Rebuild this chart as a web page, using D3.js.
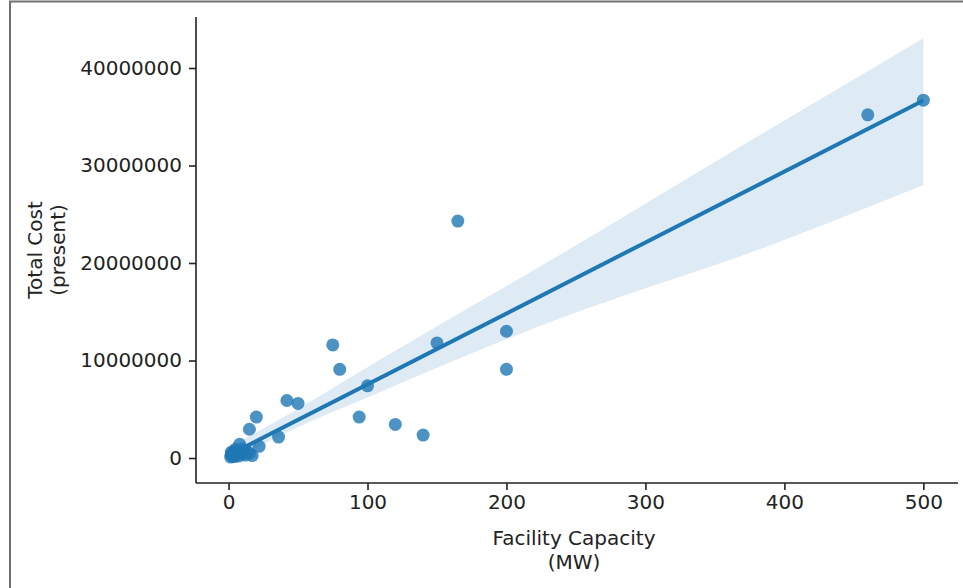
<!DOCTYPE html>
<html><head><meta charset="utf-8">
<script src="https://cdn.jsdelivr.net/npm/d3@7/dist/d3.min.js"></script>
<style>body{margin:0;background:#fff;overflow:hidden}svg{display:block}</style>
</head><body><svg id="c" width="963" height="588"></svg>
<script>
// Facility capacity (MW) and total cost (present, $)
const capacityMW = [500, 460, 165, 200, 200, 150, 75, 80, 100, 42, 50, 94, 120, 140, 20, 15, 36, 22,
  1.5, 2, 2, 3, 3, 4, 4, 5, 5, 6, 7, 8, 8, 10, 10, 12, 13, 15, 17];
const totalCost = [36700000, 35200000, 24300000, 13000000, 9100000, 11800000, 11600000, 9100000, 7400000,
  5900000, 5600000, 4200000, 3450000, 2350000, 4200000, 2950000, 2150000, 1200000,
  100000, 300000, 600000, 200000, 450000, 150000, 700000, 300000, 900000, 500000, 200000, 1400000,
  600000, 400000, 900000, 300000, 700000, 500000, 250000];
// 95% confidence band of the regression
const ciX    = [1.5, 30, 108, 238, 382, 500];
const ciLow  = [-390000, 1800000, 6700000, 14300000, 21400000, 28000000];
const ciHigh = [1200000, 3400000, 10000000, 20800000, 33100000, 43060000];
const xTicks = [0, 100, 200, 300, 400, 500];
const yTicks = [0, 10000000, 20000000, 30000000, 40000000];

const W = 963, H = 588;
const L = 196, R = 958, T = 17, B = 483;
const svg = d3.select("#c");
const FONT = "DejaVu Sans";
const COL = "#1f77b4";
const FS = 20;

// frame of the screenshot
svg.append("path").attr("d", `M10,${H} V1.5 H${W}`).attr("fill", "none")
  .attr("stroke", "#707070").attr("stroke-width", 2);

const pts = capacityMW.map((x, i) => ({x, y: totalCost[i]}));
const xmin = d3.min(capacityMW), xmax = d3.max(capacityMW);
const xr = xmax - xmin;
const x = d3.scaleLinear().domain([xmin - 0.05 * xr, xmax + 0.05 * xr]).range([L, R]);
const ylo = Math.min(d3.min(totalCost), d3.min(ciLow));
const yhi = Math.max(d3.max(totalCost), d3.max(ciHigh));
const yr = yhi - ylo;
const y = d3.scaleLinear().domain([ylo - 0.05 * yr, yhi + 0.05 * yr]).range([B, T]);

// OLS fit
const mx = d3.mean(capacityMW), my = d3.mean(totalCost);
let sxy = 0, sxx = 0;
pts.forEach(p => { sxy += (p.x - mx) * (p.y - my); sxx += (p.x - mx) ** 2; });
const slope = sxy / sxx, icpt = my - slope * mx;

// band
const band = ciX.map((v, i) => ({x: v, lo: ciLow[i], hi: ciHigh[i]}));
svg.append("path").datum(band)
  .attr("d", d3.area().x(d => x(d.x)).y0(d => y(d.lo)).y1(d => y(d.hi)).curve(d3.curveMonotoneX))
  .attr("fill", COL).attr("fill-opacity", 0.15);

// scatter
svg.append("g").selectAll("circle").data(pts).join("circle")
  .attr("cx", d => x(d.x)).attr("cy", d => y(d.y)).attr("r", 6.5)
  .attr("fill", COL).attr("fill-opacity", 0.8);

// regression line
svg.append("path").datum([xmin, xmax])
  .attr("d", d3.line().x(d => x(d)).y(d => y(icpt + slope * d)))
  .attr("fill", "none").attr("stroke", COL).attr("stroke-width", 4);

// axes
const gx = svg.append("g").attr("transform", `translate(0,${B})`)
  .call(d3.axisBottom(x).tickValues(xTicks).tickSize(7).tickPadding(5).tickFormat(d3.format("d")));
const gy = svg.append("g").attr("transform", `translate(${L},0)`)
  .call(d3.axisLeft(y).tickValues(yTicks).tickSize(7).tickPadding(7).tickFormat(d3.format("d")));
[gx, gy].forEach(g => {
  g.select(".domain").remove();
  g.selectAll(".tick line").attr("stroke", "#222").attr("stroke-width", 1.6);
  g.selectAll(".tick text").attr("fill", "#222").attr("font-family", FONT).attr("font-size", FS);
});
// spines (left & bottom only)
svg.append("line").attr("x1", L).attr("x2", L).attr("y1", T).attr("y2", B)
  .attr("stroke", "#222").attr("stroke-width", 1.6);
svg.append("line").attr("x1", L).attr("x2", R).attr("y1", B).attr("y2", B)
  .attr("stroke", "#222").attr("stroke-width", 1.6);

// axis labels
const xl = svg.append("text").attr("text-anchor", "middle").attr("font-family", FONT)
  .attr("font-size", FS).attr("fill", "#222");
xl.append("tspan").attr("x", 574).attr("y", 545).text("Facility Capacity");
xl.append("tspan").attr("x", 574).attr("y", 569).text("(MW)");

const yl = svg.append("text").attr("text-anchor", "middle").attr("font-family", FONT)
  .attr("font-size", FS).attr("fill", "#222")
  .attr("transform", `translate(0,${(T + B) / 2}) rotate(-90)`);
yl.append("tspan").attr("x", 0).attr("y", 42).text("Total Cost");
yl.append("tspan").attr("x", 0).attr("y", 65).text("(present)");
</script></body></html>
